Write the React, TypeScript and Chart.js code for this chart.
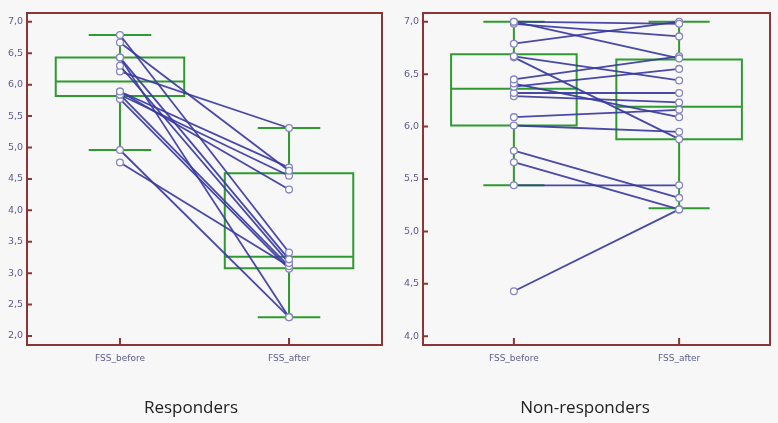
import React, { useEffect, useRef } from "react";
import { Chart, registerables } from "chart.js";
Chart.register(...registerables);

const categories = ["FSS_before", "FSS_after"];

const respTickValues = [2.0, 2.5, 3.0, 3.5, 4.0, 4.5, 5.0, 5.5, 6.0, 6.5, 7.0];
const nonTickValues = [4.0, 4.5, 5.0, 5.5, 6.0, 6.5, 7.0];

// Responders: paired values (before -> after)
const respBefore = [6.79, 6.67, 6.43, 6.43, 6.30, 6.21, 5.89, 5.84, 5.84, 5.77, 5.89, 4.96, 4.76];
const respAfter = [3.33, 4.63, 2.30, 3.22, 3.16, 5.31, 4.68, 4.55, 3.11, 3.07, 4.33, 2.30, 3.11];

// Non-responders: paired values (before -> after)
const nonBefore = [7.0, 7.0, 6.98, 6.79, 6.67, 6.66, 6.45, 6.41, 6.38, 6.32, 6.29, 6.09, 6.01, 5.77, 5.66, 5.44, 4.43];
const nonAfter = [6.98, 6.65, 6.86, 7.0, 6.44, 5.88, 6.67, 6.09, 6.55, 6.32, 6.23, 6.16, 5.95, 5.32, 5.21, 5.44, 5.21];

// Box statistics: [min whisker, Q1, median, Q3, max whisker]
const respStatsBefore = [4.96, 5.82, 6.05, 6.43, 6.79];
const respStatsAfter = [2.3, 3.08, 3.26, 4.59, 5.31];
const nonStatsBefore = [5.44, 6.01, 6.36, 6.69, 7.0];
const nonStatsAfter = [5.22, 5.88, 6.19, 6.64, 7.0];

const FRAME = "#8a3636";
const GREEN = "#2f9a2f";
const LINE = "rgba(58,58,160,0.92)";
const POINT_BORDER = "#8585c0";
const LABEL = "#5c5c8e";
const BG = "#f7f7f7";
const BOX_HALF = 0.38;
const CAP_HALF = 0.185;

function makePlugin(stats: number[][]) {
  return {
    id: "pairedBox",
    beforeDatasetsDraw(chart: any) {
      const { ctx } = chart;
      const x = chart.scales.x;
      const y = chart.scales.y;
      ctx.save();
      ctx.strokeStyle = GREEN;
      ctx.lineWidth = 2;
      stats.forEach((s, i) => {
        const [mn, q1, md, q3, mx] = s;
        const xc = x.getPixelForValue(i);
        const bl = x.getPixelForValue(i - BOX_HALF);
        const br = x.getPixelForValue(i + BOX_HALF);
        const cl = x.getPixelForValue(i - CAP_HALF);
        const cr = x.getPixelForValue(i + CAP_HALF);
        const yMn = y.getPixelForValue(mn);
        const yQ1 = y.getPixelForValue(q1);
        const yMd = y.getPixelForValue(md);
        const yQ3 = y.getPixelForValue(q3);
        const yMx = y.getPixelForValue(mx);
        ctx.beginPath();
        ctx.rect(bl, yQ3, br - bl, yQ1 - yQ3);
        ctx.moveTo(bl, yMd);
        ctx.lineTo(br, yMd);
        ctx.moveTo(xc, yQ1);
        ctx.lineTo(xc, yMn);
        ctx.moveTo(xc, yQ3);
        ctx.lineTo(xc, yMx);
        ctx.moveTo(cl, yMn);
        ctx.lineTo(cr, yMn);
        ctx.moveTo(cl, yMx);
        ctx.lineTo(cr, yMx);
        ctx.stroke();
      });
      ctx.restore();
    },
    afterDraw(chart: any) {
      const { ctx, chartArea } = chart;
      const x = chart.scales.x;
      const y = chart.scales.y;
      ctx.save();
      ctx.strokeStyle = FRAME;
      ctx.lineWidth = 2;
      ctx.strokeRect(chartArea.left, chartArea.top, chartArea.right - chartArea.left, chartArea.bottom - chartArea.top);
      ctx.beginPath();
      y.ticks.forEach((t: any) => {
        const py = y.getPixelForValue(t.value);
        ctx.moveTo(chartArea.left, py);
        ctx.lineTo(chartArea.left + 5, py);
      });
      x.ticks.forEach((t: any) => {
        const px = x.getPixelForValue(t.value);
        ctx.moveTo(px, chartArea.bottom);
        ctx.lineTo(px, chartArea.bottom - 7);
      });
      ctx.stroke();
      ctx.restore();
    },
  };
}

type PanelProps = {
  left: number;
  width: number;
  before: number[];
  after: number[];
  stats: number[][];
  tickValues: number[];
  yMin: number;
  yMax: number;
  yAxisWidth: number;
  title: string;
};

function Panel(p: PanelProps) {
  const ref = useRef<HTMLCanvasElement>(null);
  useEffect(() => {
    const datasets = p.before.map((b, i) => ({
      data: [
        { x: 0, y: b },
        { x: 1, y: p.after[i] },
      ],
      showLine: true,
      borderColor: LINE,
      borderWidth: 1.8,
      pointRadius: 3.4,
      pointBackgroundColor: "#ffffff",
      pointBorderColor: POINT_BORDER,
      pointBorderWidth: 1.3,
    }));
    const chart = new Chart(ref.current!, {
      type: "scatter",
      data: { datasets },
      options: {
        animation: false,
        responsive: false,
        events: [],
        layout: { padding: { left: 0, right: 8, top: 13, bottom: 0 } },
        plugins: {
          legend: { display: false },
          tooltip: { enabled: false },
          title: {
            display: true,
            text: p.title,
            position: "bottom",
            color: "#222222",
            font: { family: "'Open Sans', 'Noto Sans', sans-serif", size: 17, weight: "normal", lineHeight: 1.2 },
            padding: { top: 13, bottom: 4.6 },
          },
        },
        scales: {
          x: {
            type: "linear",
            min: -0.55,
            max: 1.55,
            grid: { display: false, drawTicks: false },
            border: { display: false },
            afterBuildTicks: (s: any) => {
              s.ticks = categories.map((_, i) => ({ value: i }));
            },
            afterFit: (s: any) => {
              s.height = 40;
            },
            ticks: {
              autoSkip: false,
              maxRotation: 0,
              padding: 8,
              color: LABEL,
              font: { family: "'DejaVu Sans', sans-serif", size: 9 },
              callback: (v: any) => categories[Math.round(Number(v))] ?? "",
            },
          },
          y: {
            type: "linear",
            min: p.yMin,
            max: p.yMax,
            grid: { display: false, drawTicks: false },
            border: { display: false },
            afterBuildTicks: (s: any) => {
              s.ticks = p.tickValues.map((v) => ({ value: v }));
            },
            afterFit: (s: any) => {
              s.width = p.yAxisWidth;
            },
            ticks: {
              padding: 4,
              color: LABEL,
              font: { family: "'DejaVu Sans', sans-serif", size: 9.5 },
              callback: (v: any) => Number(v).toFixed(1).replace(".", ","),
            },
          },
        },
      },
      plugins: [makePlugin(p.stats)],
    } as any);
    return () => chart.destroy();
  }, []);
  return (
    <canvas
      ref={ref}
      width={p.width}
      height={423}
      style={{ position: "absolute", left: p.left, top: 0, width: p.width, height: 423 }}
    />
  );
}

export default function App() {
  return (
    <div style={{ position: "absolute", left: 0, top: 0, width: 778, height: 423, background: BG, overflow: "hidden" }}>
      <Panel
        left={0}
        width={390}
        before={respBefore}
        after={respAfter}
        stats={[respStatsBefore, respStatsAfter]}
        tickValues={respTickValues}
        yMin={1.857}
        yMax={7.14}
        yAxisWidth={27}
        title="Responders"
      />
      <Panel
        left={400}
        width={378}
        before={nonBefore}
        after={nonAfter}
        stats={[nonStatsBefore, nonStatsAfter]}
        tickValues={nonTickValues}
        yMin={3.917}
        yMax={7.083}
        yAxisWidth={23}
        title="Non-responders"
      />
    </div>
  );
}
